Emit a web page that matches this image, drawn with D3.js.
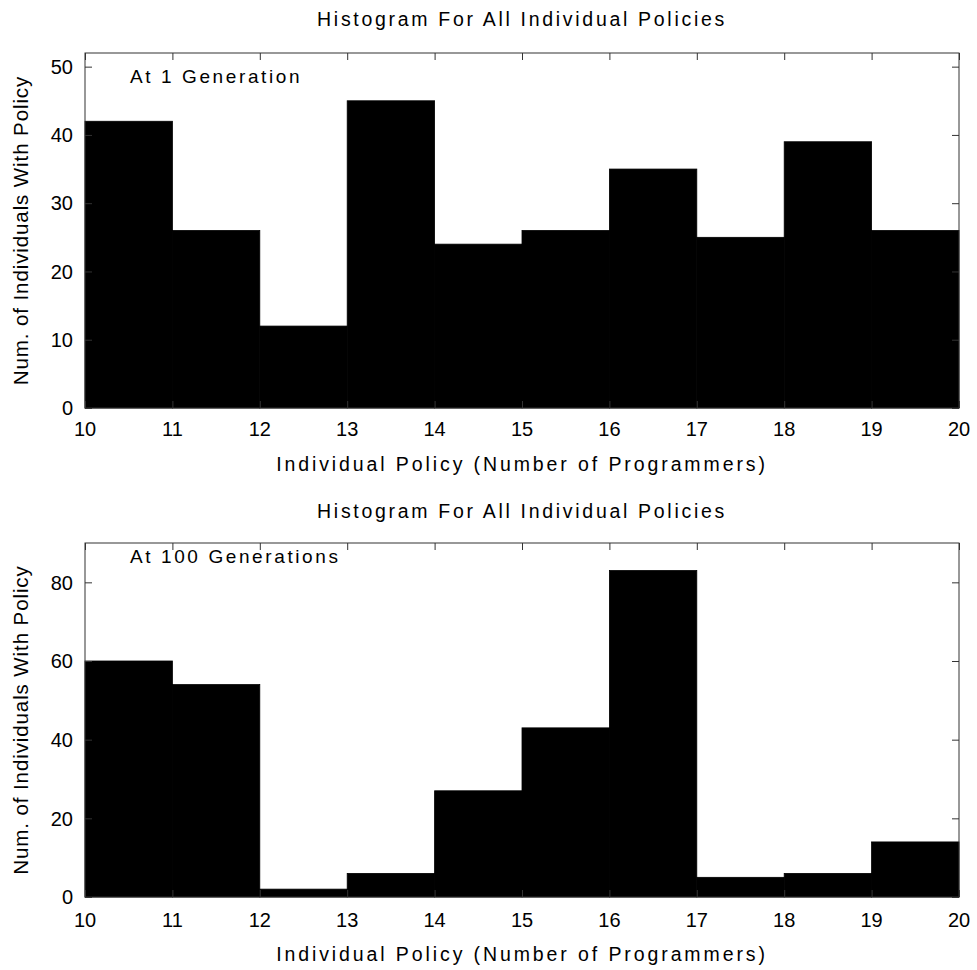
<!DOCTYPE html>
<html>
<head>
<meta charset="utf-8">
<script src="https://cdn.jsdelivr.net/npm/d3@7"></script>
<style>
  html, body { margin: 0; padding: 0; background: #fff; }
  svg text { font-family: "Liberation Sans", Arial, Helvetica, sans-serif; fill: #000; }
</style>
</head>
<body>
<svg id="chart" width="977" height="970"></svg>
<script>
// Policy bins: number of programmers, 10..20, one bin per integer step
const binEdges = [10, 11, 12, 13, 14, 15, 16, 17, 18, 19, 20];
const xTickValues = [10, 11, 12, 13, 14, 15, 16, 17, 18, 19, 20];

// Counts of individuals per policy bin
const countsGen1 = [42, 26, 12, 45, 24, 26, 35, 25, 39, 26];
const countsGen100 = [60, 54, 2, 6, 27, 43, 83, 5, 6, 14];

const yTicksGen1 = [0, 10, 20, 30, 40, 50];
const yTicksGen100 = [0, 20, 40, 60, 80];

const titleText = "Histogram For All Individual Policies";
const xLabelText = "Individual Policy (Number of Programmers)";
const yLabelText = "Num. of Individuals With Policy";

const svg = d3.select("#chart");

function drawPanel(cfg) {
  const { top, bottom, left, right, yMax, counts, yTicks, note, titleY, tickLabelY, xLabelY } = cfg;
  const x = d3.scaleLinear().domain([10, 20]).range([left, right]);
  const y = d3.scaleLinear().domain([0, yMax]).range([bottom, top]);
  const g = svg.append("g");

  // Bars
  const bins = counts.map((c, i) => ({ x0: binEdges[i], x1: binEdges[i + 1], v: c }));
  g.selectAll("rect.bar").data(bins).join("rect")
    .attr("class", "bar")
    .attr("x", d => x(d.x0))
    .attr("width", d => x(d.x1) - x(d.x0))
    .attr("y", d => y(d.v))
    .attr("height", d => y(0) - y(d.v))
    .attr("fill", "#000")
    .attr("stroke", "#000")
    .attr("stroke-width", 0.8);

  // Frame
  g.append("rect")
    .attr("x", left).attr("y", top)
    .attr("width", right - left).attr("height", bottom - top)
    .attr("fill", "none").attr("stroke", "#333").attr("stroke-width", 1);

  const tl = 7;
  // Inward ticks on all four sides
  const xa = d3.axisBottom(x).tickValues(xTickValues).tickSize(-tl).tickFormat("");
  g.append("g").attr("transform", `translate(0,${bottom})`).call(xa)
    .call(s => s.select(".domain").remove());
  const xt = d3.axisTop(x).tickValues(xTickValues).tickSize(-tl).tickFormat("");
  g.append("g").attr("transform", `translate(0,${top})`).call(xt)
    .call(s => s.select(".domain").remove());
  const ya = d3.axisLeft(y).tickValues(yTicks).tickSize(-tl).tickFormat("");
  g.append("g").attr("transform", `translate(${left},0)`).call(ya)
    .call(s => s.select(".domain").remove());
  const yr = d3.axisRight(y).tickValues(yTicks).tickSize(-tl).tickFormat("");
  g.append("g").attr("transform", `translate(${right},0)`).call(yr)
    .call(s => s.select(".domain").remove());
  g.selectAll(".tick line").attr("stroke", "#333");

  // Tick labels
  g.selectAll("text.xt").data(xTickValues).join("text")
    .attr("class", "xt")
    .attr("x", d => x(d)).attr("y", tickLabelY)
    .attr("text-anchor", "middle")
    .style("font-size", "20px")
    .text(d => d);
  g.selectAll("text.yt").data(yTicks).join("text")
    .attr("class", "yt")
    .attr("x", left - 12).attr("y", d => y(d))
    .attr("dy", "0.36em")
    .attr("text-anchor", "end")
    .style("font-size", "20px")
    .text(d => d);

  // Titles and labels
  g.append("text")
    .attr("x", (left + right) / 2).attr("y", titleY)
    .attr("text-anchor", "middle")
    .style("font-size", "19.5px").style("letter-spacing", "2.7px")
    .text(titleText);
  g.append("text")
    .attr("x", (left + right) / 2).attr("y", xLabelY)
    .attr("text-anchor", "middle")
    .style("font-size", "19.5px").style("letter-spacing", "2.9px")
    .text(xLabelText);
  g.append("text")
    .attr("transform", `translate(28,${(top + bottom) / 2}) rotate(-90)`)
    .attr("text-anchor", "middle")
    .style("font-size", "20.5px").style("letter-spacing", "0.9px")
    .text(yLabelText);

  // Panel note
  g.append("text")
    .attr("x", 130).attr("y", cfg.noteY)
    .style("font-size", "19px").style("letter-spacing", "2.6px")
    .text(note);
}

drawPanel({
  top: 53, bottom: 408, left: 85, right: 959, yMax: 52,
  counts: countsGen1, yTicks: yTicksGen1, note: "At 1 Generation",
  titleY: 26, tickLabelY: 436, xLabelY: 471, noteY: 83
});

drawPanel({
  top: 543, bottom: 897, left: 85, right: 959, yMax: 90,
  counts: countsGen100, yTicks: yTicksGen100, note: "At 100 Generations",
  titleY: 518, tickLabelY: 927, xLabelY: 961, noteY: 563
});
</script>
</body>
</html>
